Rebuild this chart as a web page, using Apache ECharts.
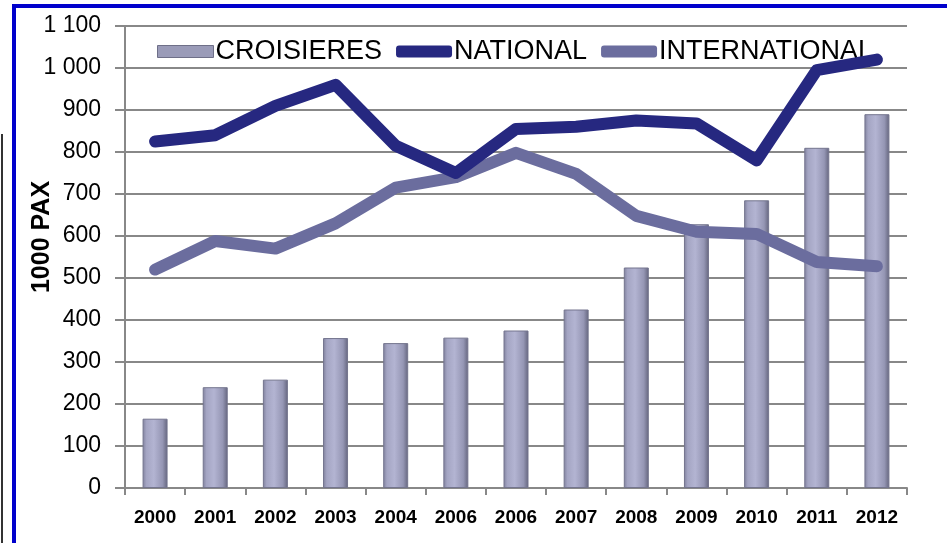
<!DOCTYPE html>
<html>
<head>
<meta charset="utf-8">
<script src="https://cdn.jsdelivr.net/npm/echarts@6/dist/echarts.min.js"></script>
<style>
  html, body { margin: 0; padding: 0; background: #fff; }
  #chart { width: 947px; height: 543px; }
</style>
</head>
<body>
<div id="chart"></div>
<script>
// categories as printed on the chart (the 6th label really reads 2006)
const years = ['2000', '2001', '2002', '2003', '2004', '2006', '2006', '2007', '2008', '2009', '2010', '2011', '2012']
const croisieres = [165, 240, 258, 357, 345, 358, 375, 425, 525, 628, 685, 810, 890]
const national = [825, 840, 910, 960, 815, 750, 855, 860, 875, 868, 780, 995, 1020]
const international = [520, 588, 570, 630, 715, 740, 798, 748, 648, 610, 605, 538, 528]
const yTickLabels = ['0', '100', '200', '300', '400', '500', '600', '700', '800', '900', '1 000', '1 100']

const myChart = echarts.init(document.getElementById('chart'))

const barGradient = new echarts.graphic.LinearGradient(0, 0, 1, 0, [
  { offset: 0, color: '#7f809c' },
  { offset: 0.15, color: '#a4a5c3' },
  { offset: 0.45, color: '#b3b4d2' },
  { offset: 0.8, color: '#9596b4' },
  { offset: 1, color: '#63647c' }
])

const option = {
  animation: false,
  backgroundColor: '#fff',
  textStyle: { fontFamily: 'Liberation Sans' },
  grid: {
    left: 125,
    right: 40,
    top: 26,
    bottom: 55
  },
  legend: {
    top: 33,
    left: 152,
    itemGap: 14,
    itemWidth: 56,
    itemHeight: 12,
    textStyle: { fontSize: 27, color: '#000', fontFamily: 'Liberation Sans', padding: [0, 0, 0, -3] },
    data: [
      { name: 'CROISIERES', icon: 'rect', itemStyle: { color: '#9a9bb8', borderColor: '#6e6f88', borderWidth: 1 } },
      { name: 'NATIONAL', icon: 'roundRect' },
      { name: 'INTERNATIONAL', icon: 'roundRect' }
    ]
  },
  xAxis: {
    type: 'category',
    data: years,
    boundaryGap: true,
    axisLine: { lineStyle: { color: '#888', width: 2 } },
    axisTick: { show: true, length: 7, lineStyle: { color: '#888', width: 2 } },
    axisLabel: { fontSize: 19, fontWeight: 'bold', color: '#000', margin: 20, interval: 0 }
  },
  yAxis: {
    type: 'value',
    min: 0,
    max: 1100,
    interval: 100,
    name: '1000 PAX',
    nameLocation: 'middle',
    nameGap: 70,
    nameMoveOverlap: false,
    nameTextStyle: { fontSize: 25, fontWeight: 'bold', color: '#000', padding: [0, 0, 0, 40] },
    axisLine: { show: true, lineStyle: { color: '#888', width: 2 } },
    axisTick: { show: true, length: 10, lineStyle: { color: '#888', width: 2 } },
    axisLabel: {
      fontSize: 23,
      color: '#000',
      margin: 24,
      formatter: function (v) { return yTickLabels[Math.round(v / 100)] }
    },
    splitLine: { lineStyle: { color: '#888', width: 2 } }
  },
  series: [
    {
      name: 'CROISIERES',
      type: 'bar',
      data: croisieres,
      barWidth: 25,
      itemStyle: { color: barGradient, borderColor: '#74758e', borderWidth: 1 },
      z: 2
    },
    {
      name: 'NATIONAL',
      type: 'line',
      data: national,
      symbol: 'none',
      color: '#262880',
      lineStyle: { width: 12, color: '#262880', cap: 'round', join: 'round' },
      z: 4
    },
    {
      name: 'INTERNATIONAL',
      type: 'line',
      data: international,
      symbol: 'none',
      color: '#6b6d9e',
      lineStyle: { width: 12, color: '#6b6d9e', cap: 'round', join: 'round' },
      z: 3
    }
  ],
  graphic: [
    {
      type: 'rect',
      shape: { x: 14, y: 6, width: 960, height: 600 },
      style: { fill: 'none', stroke: '#0000cc', lineWidth: 4 },
      silent: true
    },
    {
      type: 'line',
      shape: { x1: 2, y1: 134, x2: 2, y2: 543 },
      style: { stroke: '#333', lineWidth: 2 },
      silent: true
    }
  ]
}

myChart.setOption(option)
window.addEventListener('resize', function () {
  myChart.resize()
})
</script>
</body>
</html>
